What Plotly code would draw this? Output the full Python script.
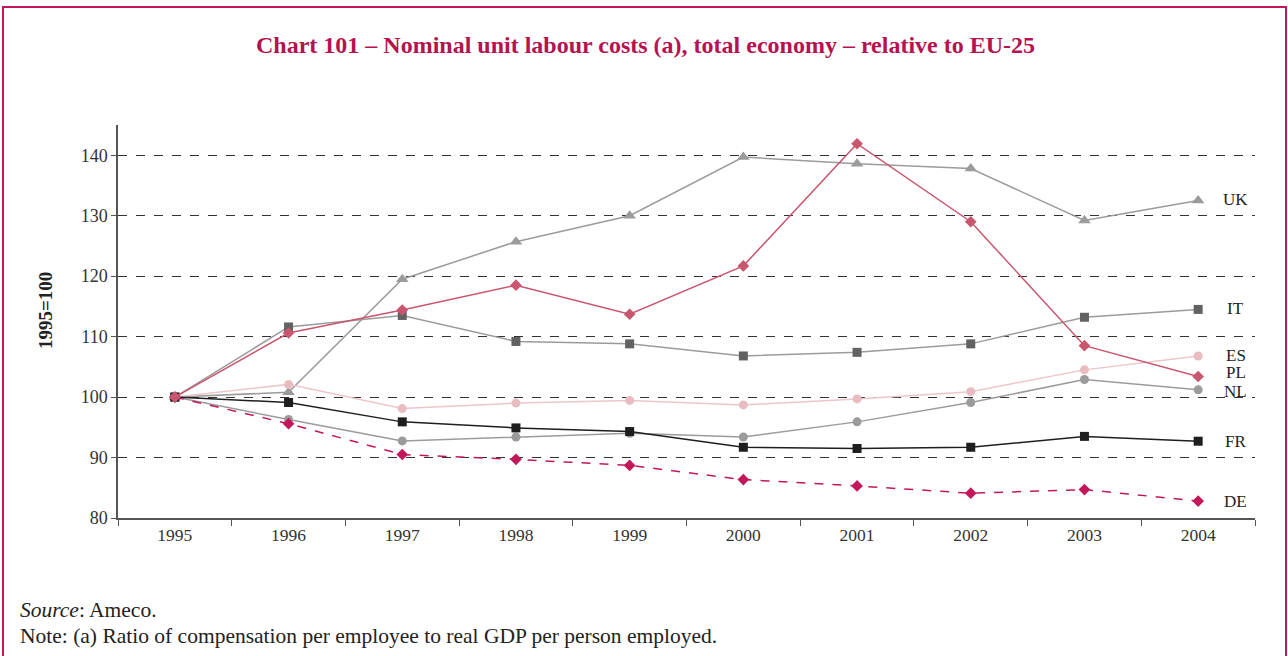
import plotly.graph_objects as go

years = [1995, 1996, 1997, 1998, 1999, 2000, 2001, 2002, 2003, 2004]

uk = [100, 100.8, 119.5, 125.7, 130.0, 139.7, 138.6, 137.8, 129.2, 132.5]
pl = [100, 110.6, 114.4, 118.5, 113.7, 121.7, 141.9, 129.0, 108.5, 103.4]
it = [100, 111.6, 113.5, 109.2, 108.8, 106.8, 107.4, 108.8, 113.2, 114.5]
es = [100, 102.1, 98.1, 99.0, 99.45, 98.7, 99.7, 100.9, 104.5, 106.8]
nl = [100, 96.3, 92.75, 93.4, 94.0, 93.4, 95.9, 99.1, 102.9, 101.2]
fr = [100, 99.1, 95.9, 94.9, 94.3, 91.7, 91.5, 91.7, 93.5, 92.7]
de = [100, 95.6, 90.5, 89.7, 88.7, 86.35, 85.3, 84.1, 84.7, 82.8]

y_ticks = [80, 90, 100, 110, 120, 130, 140]

series = [
    # name, values, line colour, marker colour, symbol, dash
    ("UK", uk, "#9b9b9b", "#9b9b9b", "triangle-up", "solid"),
    ("IT", it, "#9b9b9b", "#626262", "square", "solid"),
    ("NL", nl, "#9b9b9b", "#9b9b9b", "circle", "solid"),
    ("ES", es, "#ecc6ca", "#e8bcc1", "circle", "solid"),
    ("FR", fr, "#1e1e1e", "#1e1e1e", "square", "solid"),
    ("DE", de, "#c2185b", "#c2185b", "diamond", "dash"),
    ("PL", pl, "#c9566f", "#c9566f", "diamond", "solid"),
]

label_y = {"UK": 132.6, "IT": 114.6, "ES": 106.9, "PL": 104.0, "NL": 100.9, "FR": 92.6, "DE": 82.7}

fig = go.Figure()
for name, vals, lc, mc, sym, dash in series:
    fig.add_trace(go.Scatter(
        x=years, y=vals, mode="lines+markers", name=name,
        line=dict(color=lc, width=1.5, dash=dash),
        marker=dict(color=mc, symbol=sym, size=9 if sym != "triangle-up" else 11),
        showlegend=False,
    ))

for name, yv in label_y.items():
    fig.add_annotation(x=2004.33, y=yv, text=name, showarrow=False,
                       xanchor="center", yanchor="middle",
                       font=dict(family="Liberation Serif", size=17, color="#222"))

L, R, T, B = 118, 1255, 125, 518
W, H = 1288, 656
pw, ph = R - L, B - T

def px(p):
    return (p - L) / pw

def py(q):
    return (B - q) / ph

# frame
fig.add_shape(type="rect", xref="paper", yref="paper",
              x0=px(3), x1=px(1286), y0=py(700), y1=py(7),
              line=dict(color="#c2185b", width=2), layer="below")

fig.add_annotation(xref="paper", yref="paper", x=px(645), y=py(45),
                   text="<b>Chart 101 – Nominal unit labour costs (a), total economy – relative to EU-25</b>",
                   showarrow=False, xanchor="center", yanchor="middle",
                   font=dict(family="Liberation Serif", size=24, color="#b5124f"))

fig.add_annotation(xref="paper", yref="paper", x=px(45), y=py(311),
                   text="<b>1995=100</b>", textangle=-90, showarrow=False,
                   xanchor="center", yanchor="middle",
                   font=dict(family="Liberation Serif", size=19, color="#222"))

fig.add_annotation(xref="paper", yref="paper", x=px(18), y=py(610),
                   text="<i>Source</i>: Ameco.", showarrow=False,
                   xanchor="left", yanchor="middle",
                   font=dict(family="Liberation Serif", size=21.5, color="#222"))
fig.add_annotation(xref="paper", yref="paper", x=px(18), y=py(636),
                   text="Note: (a) Ratio of compensation per employee to real GDP per person employed.",
                   showarrow=False, xanchor="left", yanchor="middle",
                   font=dict(family="Liberation Serif", size=21.5, color="#222"))

fig.update_layout(
    width=W, height=H,
    margin=dict(l=L, r=W - R, t=T, b=H - B, autoexpand=False),
    paper_bgcolor="white", plot_bgcolor="white",
    font=dict(family="Liberation Serif", size=17.5, color="#333"),
    xaxis=dict(
        range=[1994.5, 2004.5], tickvals=years, ticktext=[str(y) for y in years],
        ticks="", showgrid=False, zeroline=False,
        showline=True, linecolor="#555", linewidth=1.5,
        tickfont=dict(family="Liberation Serif", size=17.5, color="#333"),
        minor=dict(tickvals=[1994.5 + i for i in range(11)], ticks="outside",
                   ticklen=6, tickcolor="#555", showgrid=False),
    ),
    yaxis=dict(
        range=[80, 145], tickvals=y_ticks, ticks="outside", ticklen=5,
        tickcolor="#555", showline=True, linecolor="#555", linewidth=1.5,
        showgrid=True, gridcolor="#333", gridwidth=1, griddash="dash",
        zeroline=False,
        tickfont=dict(family="Liberation Serif", size=18, color="#333"),
    ),
)

fig.write_html("out.html", config={"displayModeBar": False},
               post_script="document.body.style.margin='0px';")
